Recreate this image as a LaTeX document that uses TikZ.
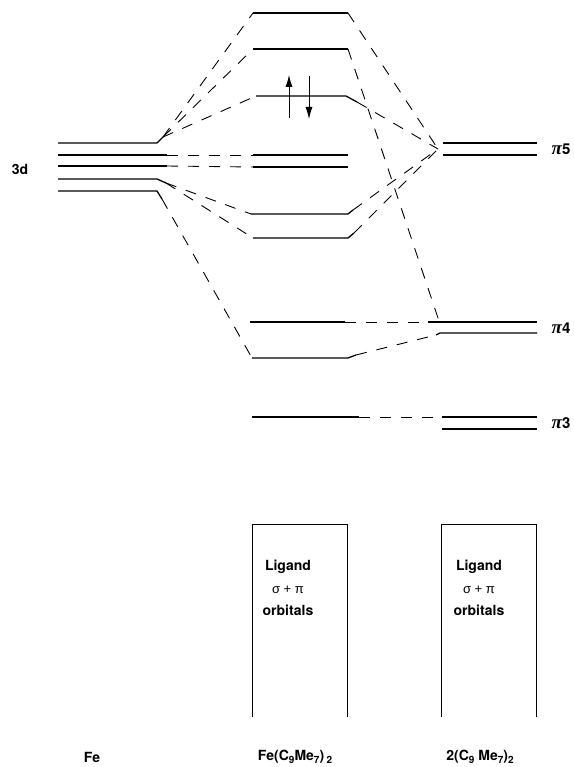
\documentclass[tikz,border=0pt]{standalone}
\usepackage{fontspec}
\setmainfont{TeX Gyre Heros}
\newfontfamily\grkfont{Liberation Sans}
\newfontfamily\pifont{Liberation Serif}
\usetikzlibrary{arrows.meta}
\newcommand\lsub[1]{\raisebox{-0.3ex}{\fontsize{10}{10}\selectfont #1}}
\begin{document}
\begin{tikzpicture}[x=1pt,y=-1pt,
  level/.style={line width=1.3pt},
  conn/.style={line width=0.9pt, dash pattern=on 11pt off 10pt},
  boxline/.style={line width=1pt},
  spin/.style={line width=0.8pt, -{Latex[length=12pt,width=7pt]}},
  lbl/.style={font=\fontsize{14}{16}\selectfont\bfseries, inner sep=0pt},
  glbl/.style={font=\fontsize{13}{15}\selectfont\grkfont, inner sep=0pt},
  plbl/.style={font=\fontsize{15}{18}\selectfont\bfseries, inner sep=0pt}]
\useasboundingbox (0,0) rectangle (573,767);
% Fe 3d levels
\coordinate (f1l) at (58,143); \coordinate (f1r) at (157,143); \coordinate (f1k) at (163,137);
\coordinate (f2l) at (58,155); \coordinate (f2r) at (167,155);
\coordinate (f3l) at (58,166); \coordinate (f3r) at (167,166);
\coordinate (f4l) at (58,179); \coordinate (f4r) at (157,179); \coordinate (f4k) at (166,183);
\coordinate (f5l) at (58,191); \coordinate (f5r) at (157,191); \coordinate (f5k) at (162,199);
% complex levels
\coordinate (c1l) at (253,13);  \coordinate (c1r) at (348,13);
\coordinate (c2l) at (253,49);  \coordinate (c2r) at (348,49);
\coordinate (c3l) at (256,96);  \coordinate (c3r) at (346,96);  \coordinate (c3k) at (357,102);
\coordinate (c4l) at (253,155); \coordinate (c4r) at (348,155);
\coordinate (c5l) at (253,167); \coordinate (c5r) at (348,167);
\coordinate (c6l) at (251,214); \coordinate (c6r) at (348,214); \coordinate (c6k) at (353,210);
\coordinate (c7l) at (253,238); \coordinate (c7r) at (348,238); \coordinate (c7k) at (354,233);
\coordinate (c8l) at (250,322); \coordinate (c8r) at (345,322);
\coordinate (c9l) at (252,358); \coordinate (c9r) at (348,358); \coordinate (c9k) at (356,355);
\coordinate (c10l) at (252,417); \coordinate (c10r) at (359,417);
% ligand levels
\coordinate (p5al) at (443,143); \coordinate (p5ar) at (537,143);
\coordinate (p5bl) at (443,155); \coordinate (p5br) at (537,155);
\coordinate (p5t) at (438,149);
\coordinate (p4al) at (428,322); \coordinate (p4ar) at (537,322);
\coordinate (p4x) at (439,321);
\coordinate (p4bl) at (440,333); \coordinate (p4br) at (537,333);
\coordinate (p4h) at (436,335);
\coordinate (p3al) at (442,417); \coordinate (p3ar) at (537,417);
\coordinate (p3bl) at (442,429); \coordinate (p3br) at (537,429);

% solid levels
\draw[level] (f1l) -- (f1r) -- (f1k);
\draw[level] (f2l) -- (f2r);
\draw[level] (f3l) -- (f3r);
\draw[level] (f4l) -- (f4r) -- (f4k);
\draw[level] (f5l) -- (f5r) -- (f5k);
\draw[level] (c1l) -- (c1r);
\draw[level] (c2l) -- (c2r);
\draw[level] (c3l) -- (c3r) -- (c3k);
\draw[level] (c4l) -- (c4r);
\draw[level] (c5l) -- (c5r);
\draw[level] (c6l) -- (c6r) -- (c6k);
\draw[level] (c7l) -- (c7r) -- (c7k);
\draw[level] (c8l) -- (c8r);
\draw[level] (c9l) -- (c9r) -- (c9k);
\draw[level] (c10l) -- (c10r);
\draw[level] (p5al) -- (p5ar);
\draw[level] (p5bl) -- (p5br);
\draw[level] (p4al) -- (p4ar);
\draw[level] (p4h) -- (p4bl) -- (p4br);
\draw[level] (p3al) -- (p3ar);
\draw[level] (p3bl) -- (p3br);

% dashed correlation lines
\draw[conn] (f1k) -- (c1l);
\draw[conn] (f1k) -- (c2l);
\draw[conn] (f1k) -- (c3l);
\draw[conn] (f2r) -- (c4l);
\draw[conn] (f3r) -- (c5l);
\draw[conn] (f4k) -- (c6l);
\draw[conn] (f4k) -- (c7l);
\draw[conn] (f5k) -- (c9l);
\draw[conn] (c1r) -- (p5t);
\draw[conn] (c2r) -- (p4x);
\draw[conn] (c3k) -- (p5t);
\draw[conn] (c6k) -- (p5t);
\draw[conn] (c7k) -- (p5t);
\draw[conn] (c8r) -- (p4al);
\draw[conn] (c9k) -- (p4h);
\draw[conn] (c10r) -- (p3al);

% electrons
\coordinate (e1a) at (289,118); \coordinate (e1b) at (289,75);
\coordinate (e2a) at (309,76);  \coordinate (e2b) at (309,119);
\draw[spin] (e1a) -- (e1b);
\draw[spin] (e2a) -- (e2b);

% ligand boxes
\draw[boxline] (252,717) -- (252,524) -- (347,524) -- (347,717);
\draw[boxline] (441,717) -- (441,524) -- (536,524) -- (536,717);
\node[lbl] (lg1) at (288,567) {Ligand};
\node[glbl] (sp1) at (288,590) {σ + π};
\node[lbl] (or1) at (288,610) {orbitals};
\node[lbl] (lg2) at (479,567) {Ligand};
\node[glbl] (sp2) at (479,590) {σ + π};
\node[lbl] (or2) at (479,610) {orbitals};

% labels
\node[lbl] (t3d) at (20,169) {3d};
\node[plbl] (tp5) at (561,149) {{\pifont\itshape\fontsize{19}{20}\selectfont π}5};
\node[plbl] (tp4) at (561,328) {{\pifont\itshape\fontsize{19}{20}\selectfont π}4};
\node[plbl] (tp3) at (561,423) {{\pifont\itshape\fontsize{19}{20}\selectfont π}3};
\node[lbl] (tfe) at (92,757) {Fe};
\node[lbl] (tcx) at (295,757) {Fe(C\lsub{9}Me\lsub{7})\,\lsub{2}};
\node[lbl] (tlg) at (480,757) {2(C\lsub{9} Me\lsub{7})\lsub{2}};
\end{tikzpicture}
\end{document}
